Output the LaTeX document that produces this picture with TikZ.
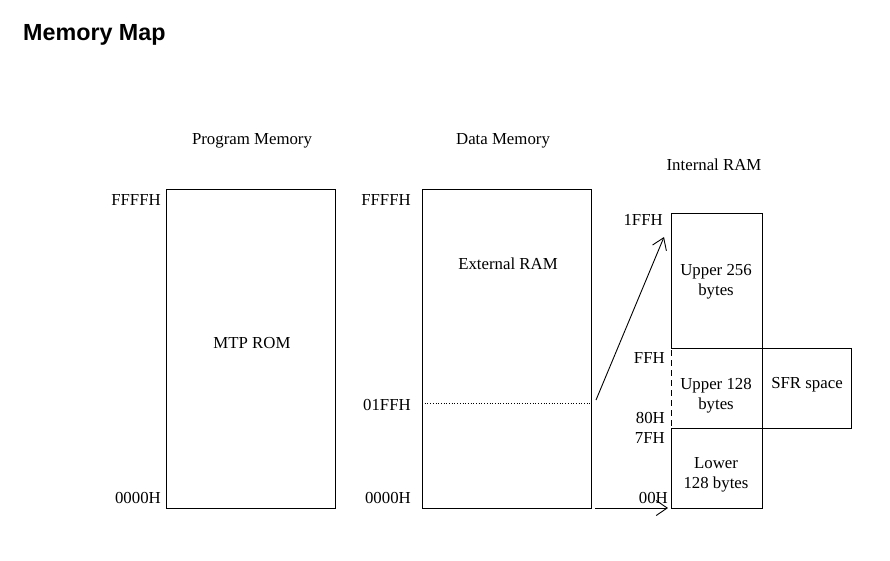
\documentclass[tikz,border=0pt]{standalone}
\usepackage{fontspec}
\setmainfont{Liberation Serif}
\newfontfamily\titlefont{Liberation Sans}
\usetikzlibrary{arrows.meta}
\begin{document}
\begin{tikzpicture}[x=1pt,y=-1pt,
  lbl/.style={inner sep=0pt,font=\fontsize{16.8}{20}\selectfont},
  rlbl/.style={lbl,anchor=east},
  box/.style={draw,line width=0.9pt},
  arr/.style={line width=0.9pt,-{Straight Barb[length=11pt,width=15pt]}}]
\useasboundingbox (0,0) rectangle (890,560);
\node[anchor=west,inner sep=0pt,font=\titlefont\bfseries\fontsize{23.3}{27}\selectfont] (title) at (23,35) {Memory Map};
% Program memory
\node[lbl] (pmt) at (252,141) {Program Memory};
\draw[box] (166,189) rectangle (335,508);
\node[lbl] (rom) at (252,343) {MTP ROM};
\node[rlbl] (pf) at (161,200) {FFFFH};
\node[rlbl] (p0) at (161,498) {0000H};
% Data memory
\node[lbl] (dmt) at (503,141) {Data Memory};
\draw[box] (422,189) rectangle (591,508);
\draw[dotted,line width=0.7pt] (422,403) -- (591,403);
\node[lbl] (ext) at (508,264) {External RAM};
\node[rlbl] (df) at (411,200) {FFFFH};
\node[rlbl] (d1) at (411,405) {01FFH};
\node[rlbl] (d0) at (411,498) {0000H};
% Internal RAM
\node[lbl] (irt) at (714,165) {Internal RAM};
\draw[box] (671,348) -- (671,213) -- (762,213) -- (762,508) -- (671,508) -- (671,428) -- (851,428) -- (851,348) -- (671,348);
\draw[line width=0.9pt,dash pattern=on 6pt off 4pt] (671,350) -- (671,428);
\node[lbl,align=center] (u256) at (716,282) {Upper 256\\bytes};
\node[lbl,align=center] (u128) at (716,396) {Upper 128\\bytes};
\node[lbl] (sfr) at (807,385) {SFR space};
\node[lbl,align=center] (l128) at (716,475) {Lower\\128 bytes};
\node[rlbl] (h1ff) at (663,220) {1FFH};
\node[rlbl] (hff) at (665,358) {FFH};
\node[rlbl] (h80) at (665,418) {80H};
\node[rlbl] (h7f) at (665,438) {7FH};
\node[rlbl] (h00) at (668,498) {00H};
\coordinate (a1s) at (596,400);
\coordinate (a1e) at (664,237);
\coordinate (a2s) at (595,508);
\coordinate (a2e) at (668,508);
\draw[arr] (a1s) -- (a1e);
\draw[arr] (a2s) -- (a2e);
\end{tikzpicture}
\end{document}
